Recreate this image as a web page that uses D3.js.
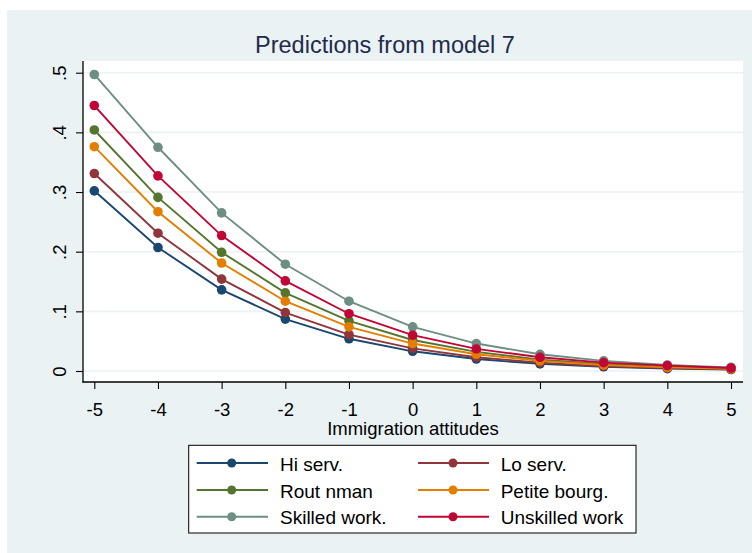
<!DOCTYPE html>
<html><head><meta charset="utf-8">
<script src="https://cdn.jsdelivr.net/npm/d3@7"></script>
<style>body{margin:0;background:#fff}svg{display:block}text{font-family:"Liberation Sans",Arial,sans-serif}</style>
</head><body>
<svg id="chart" width="752" height="553"></svg>
<script>
const xValues = [-5,-4,-3,-2,-1,0,1,2,3,4,5];
const seriesNames = ["Hi serv.","Lo serv.","Rout nman","Petite bourg.","Skilled work.","Unskilled work"];
const colors = ["#1a476f","#90353b","#55752f","#e37e00","#6e8e84","#c10534"];
const hiServ      = [0.302,0.207,0.136,0.087,0.054,0.033,0.020,0.012,0.007,0.004,0.0025];
const loServ      = [0.331,0.231,0.154,0.098,0.061,0.038,0.023,0.014,0.008,0.005,0.003];
const routNman    = [0.404,0.291,0.199,0.131,0.084,0.052,0.032,0.019,0.012,0.007,0.004];
const petiteBourg = [0.376,0.267,0.181,0.117,0.074,0.046,0.028,0.017,0.010,0.006,0.0035];
const skilledWork = [0.497,0.375,0.265,0.179,0.117,0.074,0.046,0.028,0.017,0.010,0.006];
const unskilledWork=[0.445,0.327,0.227,0.151,0.096,0.060,0.037,0.023,0.014,0.009,0.005];
const seriesValues = [hiServ,loServ,routNman,petiteBourg,skilledWork,unskilledWork];
const yTicks = [0,0.1,0.2,0.3,0.4,0.5];
const yTickLabels = ["0",".1",".2",".3",".4",".5"];
const xTicks = [-5,-4,-3,-2,-1,0,1,2,3,4,5];
const titleText = "Predictions from model 7";
const xTitle = "Immigration attitudes";

const svg = d3.select("#chart");
// outer background
svg.append("rect").attr("x",7).attr("y",10).attr("width",745).attr("height",543).attr("fill","#eaf2f3");
const plot = {left:83, right:743, top:61, bottom:382};
svg.append("rect").attr("x",plot.left).attr("y",plot.top).attr("width",plot.right-plot.left).attr("height",plot.bottom-plot.top).attr("fill","#ffffff");

const x = d3.scaleLinear().domain([-5,5]).range([94.3,731]);
const y = d3.scaleLinear().domain([0,0.5]).range([371,72.7]);

// gridlines
svg.append("g").selectAll("line").data(yTicks).join("line")
  .attr("x1",plot.left).attr("x2",plot.right)
  .attr("y1",d=>y(d)).attr("y2",d=>y(d))
  .attr("stroke","#eaf2f3").attr("stroke-width",1.6);

// y axis
const yAxis = d3.axisLeft(y).tickValues(yTicks).tickFormat((d,i)=>yTickLabels[i]).tickSize(7).tickPadding(0);
const gy = svg.append("g").attr("transform",`translate(${plot.left},0)`).call(yAxis);
gy.select(".domain").remove();
gy.selectAll(".tick line").attr("stroke","#000").attr("stroke-width",1.1);
gy.selectAll(".tick text").remove();
gy.selectAll(".tick").append("text")
  .attr("transform","translate(-17,0) rotate(-90)")
  .attr("text-anchor","middle").attr("fill","#000")
  .style("font-size","18.5px").text((d,i)=>yTickLabels[i]);
svg.append("line").attr("x1",plot.left).attr("x2",plot.left).attr("y1",plot.top).attr("y2",plot.bottom+0.5)
  .attr("stroke","#000").attr("stroke-width",1.3);

// x axis
const xAxis = d3.axisBottom(x).tickValues(xTicks).tickFormat(d3.format("d")).tickSize(7).tickPadding(0);
const gx = svg.append("g").attr("transform",`translate(0,${plot.bottom})`).call(xAxis);
gx.select(".domain").remove();
gx.selectAll(".tick line").attr("stroke","#000").attr("stroke-width",1.1);
gx.selectAll(".tick text").attr("y",33.5).attr("dy",null).attr("fill","#000")
  .style("font-size","18.5px").style("font-family","Liberation Sans, Arial, sans-serif")
  .text(d=>d<0?"-"+Math.abs(d):String(d));
svg.append("line").attr("x1",plot.left-0.5).attr("x2",plot.right).attr("y1",plot.bottom).attr("y2",plot.bottom)
  .attr("stroke","#000").attr("stroke-width",1.3);

// series
const line = d3.line().x((d,i)=>x(xValues[i])).y(d=>y(d));
seriesValues.forEach((vals,si)=>{
  const g = svg.append("g");
  g.append("path").attr("d",line(vals)).attr("fill","none").attr("stroke",colors[si]).attr("stroke-width",1.9);
  g.selectAll("circle").data(vals).join("circle")
    .attr("cx",(d,i)=>x(xValues[i])).attr("cy",d=>y(d)).attr("r",4.8).attr("fill",colors[si]);
});

// title
svg.append("text").attr("x",385).attr("y",53).attr("text-anchor","middle")
  .attr("fill","#1e2b4c").style("font-size","23.5px").text(titleText);
// x title
svg.append("text").attr("x",413).attr("y",434.5).attr("text-anchor","middle")
  .attr("fill","#000").style("font-size","18.5px").text(xTitle);

// legend
const lg = svg.append("g");
lg.append("rect").attr("x",188.7).attr("y",445.3).attr("width",447.3).attr("height",87.7)
  .attr("fill","#fff").attr("stroke","#000").attr("stroke-width",1);
const colX = [{l1:196.7,l2:268,m:231.7,t:280},{l1:418,l2:489,m:453,t:500.7}];
const rowY = [463,490,516.7];
seriesNames.forEach((name,i)=>{
  const c = colX[i%2], ry = rowY[Math.floor(i/2)];
  lg.append("line").attr("x1",c.l1).attr("x2",c.l2).attr("y1",ry).attr("y2",ry).attr("stroke",colors[i]).attr("stroke-width",1.9);
  lg.append("circle").attr("cx",c.m).attr("cy",ry).attr("r",4.5).attr("fill",colors[i]);
  lg.append("text").attr("x",c.t).attr("y",ry+7.5).attr("fill","#000").style("font-size","19px").text(name);
});
</script>
</body></html>
